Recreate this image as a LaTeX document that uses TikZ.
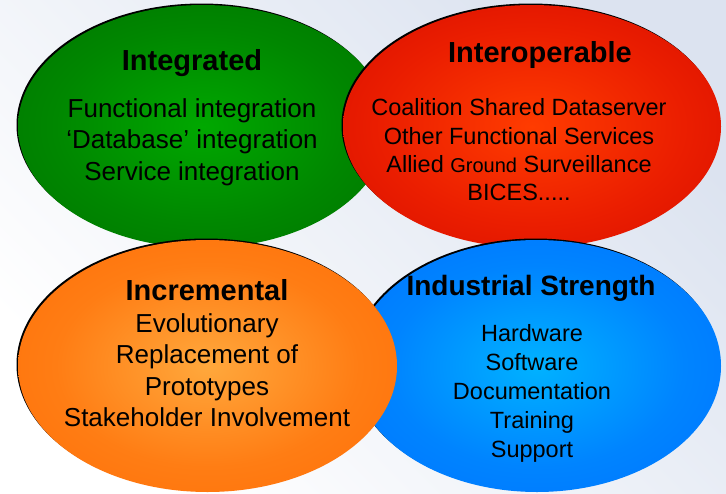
\documentclass[tikz,border=0pt]{standalone}
\usepackage{fontspec}
\setmainfont{Liberation Sans}
\usetikzlibrary{shapes.geometric}
\definecolor{bgc}{RGB}{220,227,240}
\definecolor{gin}{RGB}{0,168,0}
\definecolor{gmid}{RGB}{0,135,0}
\definecolor{gout}{RGB}{0,105,0}
\definecolor{rin}{RGB}{255,60,0}
\definecolor{rmid}{RGB}{235,30,0}
\definecolor{rout}{RGB}{205,5,0}
\definecolor{oin}{RGB}{255,168,60}
\definecolor{omid}{RGB}{255,125,20}
\definecolor{oout}{RGB}{255,102,0}
\definecolor{bin}{RGB}{0,178,255}
\definecolor{bmid}{RGB}{0,132,255}
\definecolor{bout}{RGB}{0,105,255}
\pgfdeclareradialshading{shgreen}{\pgfpoint{0bp}{0bp}}{color(0bp)=(gin);color(20bp)=(gmid);color(44bp)=(gout);color(50bp)=(gout)}
\pgfdeclareradialshading{shred}{\pgfpoint{0bp}{0bp}}{color(0bp)=(rin);color(20bp)=(rmid);color(44bp)=(rout);color(50bp)=(rout)}
\pgfdeclareradialshading{shorange}{\pgfpoint{0bp}{0bp}}{color(0bp)=(oin);color(20bp)=(omid);color(44bp)=(oout);color(50bp)=(oout)}
\pgfdeclareradialshading{shblue}{\pgfpoint{0bp}{0bp}}{color(0bp)=(bin);color(20bp)=(bmid);color(44bp)=(bout);color(50bp)=(bout)}
\tikzset{
  blob/.style={ellipse, inner sep=0pt, shade, draw=none},
  blobshadow/.style={ellipse, inner sep=0pt, fill=black},
  ttl/.style={inner sep=0pt, font=\fontsize{29}{34}\selectfont\bfseries},
  bodybig/.style={inner sep=0pt, align=center, font=\fontsize{26}{31.5}\selectfont},
  bodyred/.style={inner sep=0pt, align=center, font=\fontsize{23.5}{28.3}\selectfont},
  bodyblue/.style={inner sep=0pt, align=center, font=\fontsize{23.5}{29}\selectfont},
}
\begin{document}
\begin{tikzpicture}[x=1pt,y=-1pt]
\useasboundingbox (0,0) rectangle (726,493);
\shade[bottom color=white, top color=bgc, shading angle=-45] (0,0) rectangle (726,493);
% green
\node[blobshadow, minimum width=370pt, minimum height=243pt] (gsh) at (201.5,125) {};
\node[blob, shading=shgreen, minimum width=370pt, minimum height=243pt] (green) at (203,126.5) {};
% red
\node[blobshadow, minimum width=378pt, minimum height=243pt] (rsh) at (530.5,125) {};
\node[blob, shading=shred, minimum width=378pt, minimum height=243pt] (red) at (532,126.5) {};
% blue
\node[blobshadow, minimum width=368pt, minimum height=252pt] (bsh) at (535.5,364.5) {};
\node[blob, shading=shblue, minimum width=368pt, minimum height=252pt] (blue) at (537,366) {};
% orange
\node[blobshadow, minimum width=379pt, minimum height=252pt] (osh) at (206,364.5) {};
\node[blob, shading=shorange, minimum width=379pt, minimum height=252pt] (orange) at (207.5,366) {};
% texts
\node[ttl] (gt) at (192,63) {Integrated};
\node[bodybig] (gb) at (192,142) {Functional integration\\‘Database’ integration\\Service integration};
\node[ttl] (rt) at (540,55) {Interoperable};
\node[bodyred] (rb) at (519,150) {Coalition Shared Dataserver\\Other Functional Services\\Allied {\fontsize{20}{28.3}\selectfont Ground} Surveillance\\BICES.....};
\node[ttl] (ot) at (207,290) {Incremental};
\node[bodybig] (ob) at (207,370) {Evolutionary\\Replacement of\\Prototypes\\Stakeholder Involvement};
\node[ttl, font=\fontsize{28}{34}\selectfont\bfseries] (bt) at (531,288) {Industrial Strength};
\node[bodyblue] (bb) at (532,393) {Hardware\\Software\\Documentation\\Training\\Support};
\end{tikzpicture}
\end{document}
